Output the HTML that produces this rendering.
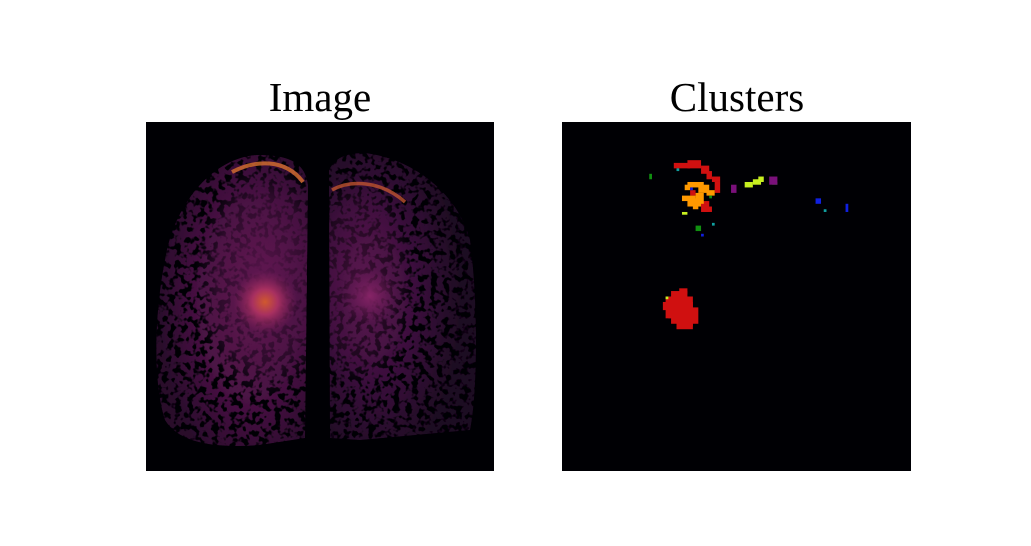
<!DOCTYPE html>
<html><head><meta charset="utf-8"><style>
html,body{margin:0;padding:0;background:#fff;width:1031px;height:546px;overflow:hidden}
svg{display:block}
text{font-family:"Liberation Serif","DejaVu Serif",serif}
</style></head><body>
<svg id="fig" width="1031" height="546" viewBox="0 0 1031 546">
<defs>
<filter id="speck" x="0" y="0" width="100%" height="100%">
<feTurbulence type="fractalNoise" baseFrequency="0.16" numOctaves="2" seed="4" result="n"/>
<feColorMatrix in="n" type="matrix" values="0 0 0 0 0  0 0 0 0 0  0 0 0 0 0  0 0 0 8 -3.9" result="m"/>
<feComposite in="SourceGraphic" in2="m" operator="out"/>
</filter>
<radialGradient id="gL" cx="0.62" cy="0.5" r="0.6">
<stop offset="0" stop-color="#7a2058"/><stop offset="0.55" stop-color="#4a1244"/><stop offset="1" stop-color="#2a0a2c"/>
</radialGradient>
<radialGradient id="gR" cx="0.3" cy="0.5" r="0.6">
<stop offset="0" stop-color="#5a1850"/><stop offset="0.5" stop-color="#3a0f3c"/><stop offset="1" stop-color="#1e0822"/>
</radialGradient>
<radialGradient id="core" cx="0.5" cy="0.5" r="0.5">
<stop offset="0" stop-color="#5e1650" stop-opacity="0.95"/><stop offset="0.7" stop-color="#4a1244" stop-opacity="0.6"/><stop offset="1" stop-color="#3a0f3c" stop-opacity="0"/>
</radialGradient>
<radialGradient id="hot" cx="0.5" cy="0.5" r="0.5">
<stop offset="0" stop-color="#d0582e"/><stop offset="0.4" stop-color="#a83060"/><stop offset="1" stop-color="#7a2058" stop-opacity="0"/>
</radialGradient>
<radialGradient id="hot2" cx="0.5" cy="0.5" r="0.5">
<stop offset="0" stop-color="#862466"/><stop offset="1" stop-color="#6a1c58" stop-opacity="0"/>
</radialGradient>
<clipPath id="cl"><path d="M308 185 C305 160 285 155 256 155 C215 158 175 200 165 260 C155 310 152 380 165 420 C180 445 220 448 260 445 L305 438 Z"/></clipPath>
<clipPath id="cr"><path d="M329 170 C335 158 345 153 365 153 C420 160 460 200 470 240 C478 300 478 390 470 430 L360 440 L330 438 Z"/></clipPath>
</defs>
<text x="320" y="111" font-size="41" text-anchor="middle">Image</text>
<text x="737" y="111" font-size="41" text-anchor="middle">Clusters</text>

<g>
<rect x="146" y="122" width="348" height="349" fill="#000004"/>
<g filter="url(#speck)">
<path d="M308 185 C305 160 285 155 256 155 C215 158 175 200 165 260 C155 310 152 380 165 420 C180 445 220 448 260 445 L305 438 Z" fill="url(#gL)"/>
<path d="M329 170 C335 158 345 153 365 153 C420 160 460 200 470 240 C478 300 478 390 470 430 L360 440 L330 438 Z" fill="url(#gR)"/>
</g>
<g clip-path="url(#cl)"><ellipse cx="265" cy="280" rx="70" ry="120" fill="url(#core)"/></g>
<g clip-path="url(#cr)"><ellipse cx="360" cy="280" rx="55" ry="110" fill="url(#core)" opacity="0.7"/></g>
<circle cx="265" cy="302" r="32" fill="url(#hot)"/>
<circle cx="370" cy="296" r="28" fill="url(#hot2)"/>
<path d="M232 172 C255 160 285 158 303 182" stroke="#d87030" stroke-width="4" fill="none" opacity="0.8"/>
<path d="M332 190 C350 180 380 180 405 202" stroke="#c85830" stroke-width="3.5" fill="none" opacity="0.75"/>
</g>

<g id="clusters">
<rect x="562" y="122" width="349" height="349" fill="#000004"/>
</g>
</svg>
<script>
// cluster cells: [col,row,wCells,hCells] on a 128x128 grid
const gridSize = 128;
const redCells = [[41,15,6,2],[46,14,5,3],[51,16,3,3],[53,18,2,3],[55,20,3,2],[56,22,2,4],[47,25,2,2],[51,29,3,4],[52,31,3,2],
  [40,62,6,6],[38,64,10,8],[40,68,10,6],[42,66,6,10],[43,61,3,2],[39,69,2,3],[45,73,3,2],[37,66,2,3]];
const orangeCells = [[46,22,6,2],[45,23,2,2],[50,23,4,3],[53,25,3,2],[44,27,5,2],[46,28,5,3],[49,26,3,4],[48,30,2,2]];
const greenCells = [[32,19,1,2],[54,27,1,1],[49,38,2,2],[77,22,2,1]];
const yellowCells = [[67,22,3,2],[70,21,3,2],[72,20,2,2],[44,33,2,1],[38,64,1,1]];
const purpleCells = [[76,20,3,3],[62,23,2,3]];
const blueCells = [[47,24,1,1],[51,41,1,1],[93,28,2,2],[104,30,1,3]];
const cyanCells = [[42,17,1,1],[55,37,1,1],[96,32,1,1]];
const clusterColors = ["#d01010","#ff9900","#109010","#c8f020","#7a107a","#1020e0","#10a0a0"];
const clusterSets = [redCells,orangeCells,greenCells,yellowCells,purpleCells,blueCells,cyanCells];
const names = ["red","orange","green","yellow","purple","blue","cyan"];
const px0 = 562, py0 = 122, pw = 349;
function sx(c){return px0 + c*pw/gridSize;}
function sy(r){return py0 + r*pw/gridSize;}
const g = document.getElementById('clusters');
clusterSets.forEach((set,i)=>{
  set.forEach(c=>{
    const r = document.createElementNS('http://www.w3.org/2000/svg','rect');
    r.setAttribute('x', sx(c[0])); r.setAttribute('y', sy(c[1]));
    r.setAttribute('width', sx(c[0]+c[2])-sx(c[0])); r.setAttribute('height', sy(c[1]+c[3])-sy(c[1]));
    r.setAttribute('fill', clusterColors[i]);
    
    
    g.appendChild(r);
  });
});
</script>
</body></html>
